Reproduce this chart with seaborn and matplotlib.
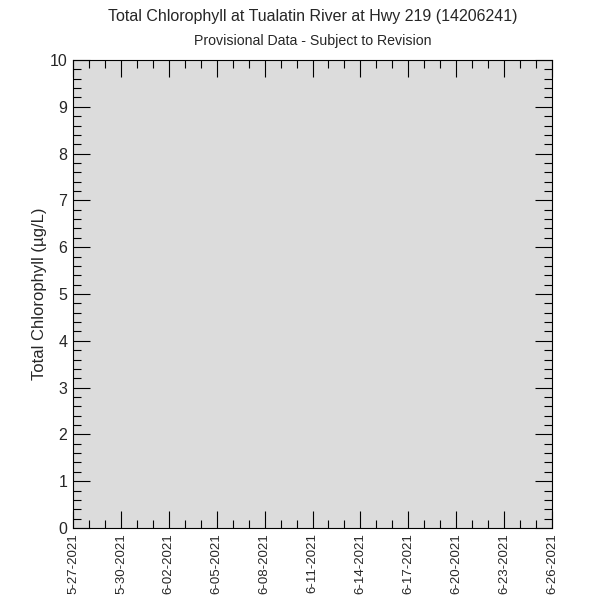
import pandas as pd
import numpy as np
import seaborn as sns
import matplotlib.pyplot as plt
import matplotlib.dates as mdates

# no observations in this window, so the series is empty
start_date = "2021-05-27"
end_date = "2021-06-26"
obs_dates = []
obs_values = []
y_min, y_max = 0, 10

df = pd.DataFrame({"date": pd.to_datetime(obs_dates), "chl": pd.Series(obs_values, dtype=float)})

sns.set_style("ticks")
plt.rcParams['font.family'] = ['Liberation Sans', 'DejaVu Sans']

fig = plt.figure(figsize=(6, 6), dpi=100)
ax = fig.add_axes([0.1217, 0.12, 0.7983, 0.78])
ax.set_facecolor("#dcdcdc")

sns.lineplot(data=df, x="date", y="chl", ax=ax)

ax.set_xlim(pd.Timestamp(start_date), pd.Timestamp(end_date))
ax.set_ylim(y_min, y_max)
ticks = pd.date_range(start_date, end_date, freq="3D")
ax.set_xticks(ticks)
ax.set_xticklabels([f"{d.month}-{d.day:02d}-{d.year}" for d in ticks], rotation=90, fontsize=9.5)
ax.xaxis.set_minor_locator(mdates.DayLocator())
ax.set_yticks(range(y_min, y_max + 1))
ax.set_yticklabels([str(v) for v in range(y_min, y_max + 1)], fontsize=11.5)
ax.yaxis.set_minor_locator(plt.MultipleLocator(0.2))

ax.tick_params(which="both", direction="in", top=True, right=True, color="black", width=0.8)
ax.tick_params(which="major", length=12)
ax.tick_params(which="minor", length=6)
ax.tick_params(axis="x", which="major", pad=3.5)
ax.tick_params(axis="y", which="major", pad=4)
for s in ax.spines.values():
    s.set_color("black")
    s.set_linewidth(0.8)

ax.set_xlabel("")
ax.set_ylabel("Total Chlorophyll (\u00b5g/L)", fontsize=12, labelpad=2)

# titles centred over the plot area, not the figure
cx = 0.1217 + 0.7983 / 2
fig.text(cx, 0.972, "Total Chlorophyll at Tualatin River at Hwy 219 (14206241)", ha="center", va="center", fontsize=11.5)
fig.text(cx, 0.931, "Provisional Data - Subject to Revision", ha="center", va="center", fontsize=10.2)

fig.savefig("out.png", dpi=100, facecolor="white")
